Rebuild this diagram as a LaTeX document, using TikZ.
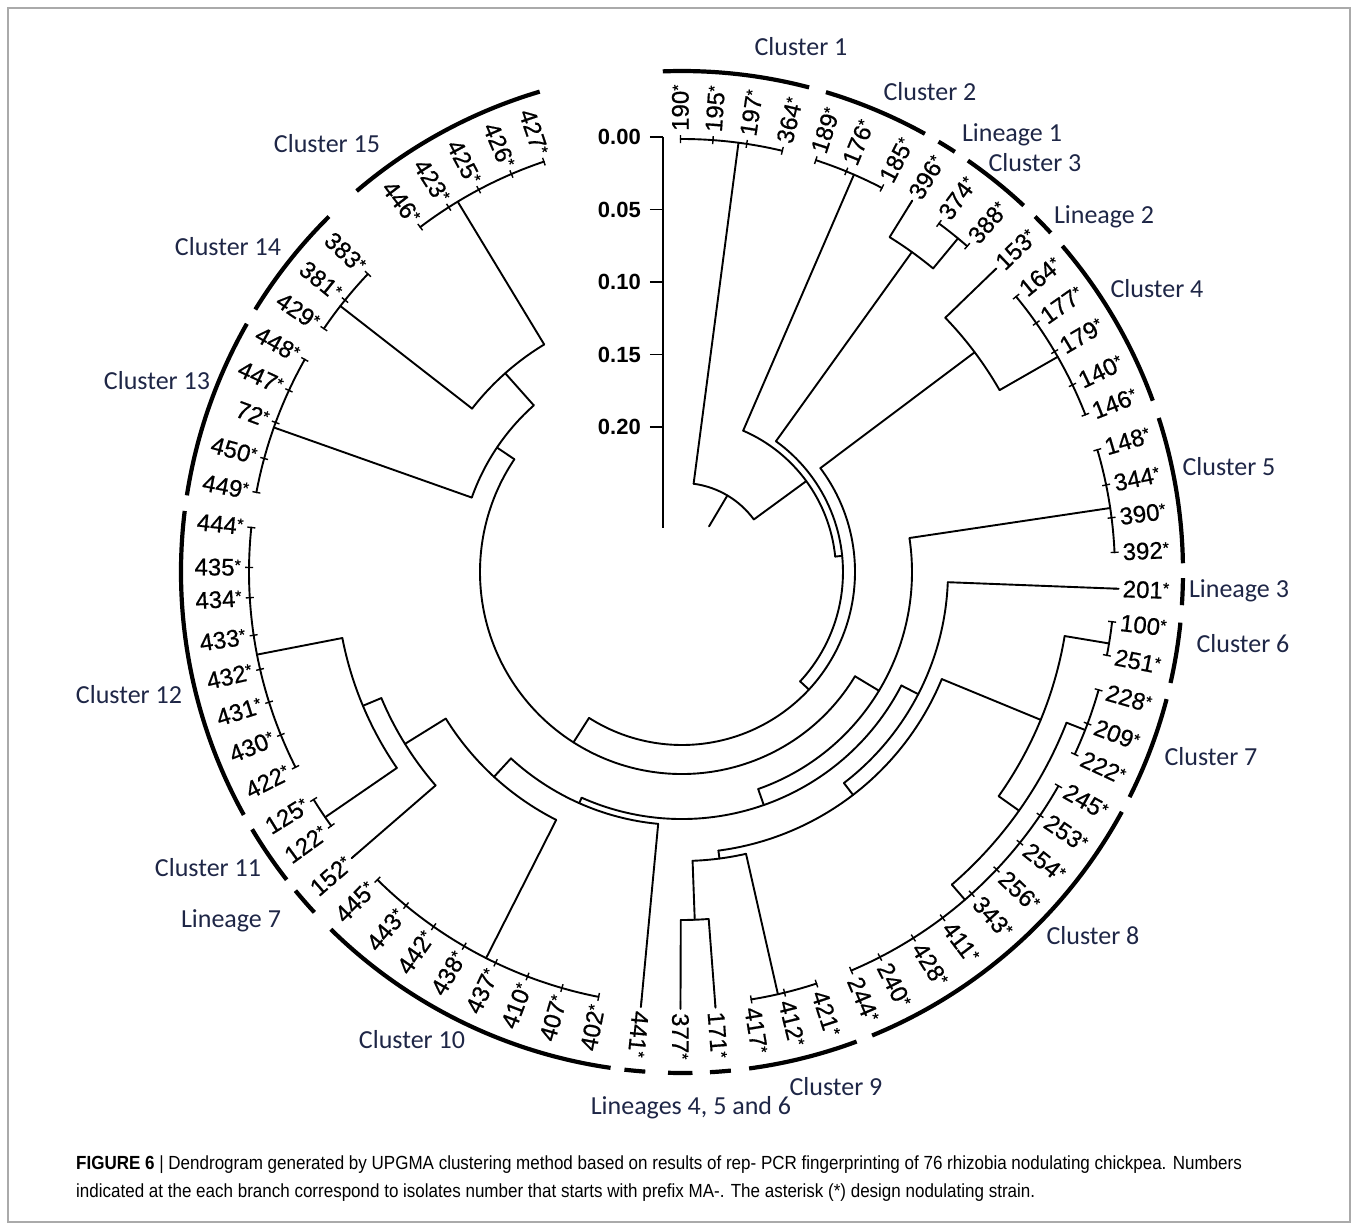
\documentclass[tikz,border=0pt]{standalone}
\usepackage{fontspec}
\setmainfont{Liberation Sans}
\newfontfamily\lblfam[FakeBold=0.6]{Liberation Sans}
\newfontfamily\clfam{Carlito}
\newfontfamily\capfam[FakeStretch=0.895]{Liberation Sans}
\definecolor{clcol}{RGB}{30,38,70}
\definecolor{framecol}{RGB}{170,170,170}
\newcommand{\stx}{\raisebox{5pt}{\fontsize{16}{16}\selectfont *}}
\tikzset{
  br/.style={line width=1.9pt, line cap=round, line join=round},
  tk/.style={line width=1.4pt},
  clarc/.style={line width=4.2pt},
  lbl/.style={inner sep=0pt, font=\lblfam\fontsize{24}{24}\selectfont},
  cl/.style={inner sep=0pt, text=clcol, font=\clfam\fontsize{26}{26}\selectfont},
  sc/.style={inner sep=0pt, font=\bfseries\fontsize{22}{22}\selectfont},
  capt/.style={anchor=base west, inner sep=0pt, font=\capfam\fontsize{19}{19}\selectfont},
}
% leaf label, right half (reads outward)
\newcommand{\LR}[2]{\draw[tk] (#2:429pt) -- (#2:437pt);
  \node[lbl, anchor=west, rotate=#2] (l#1) at (#2:441pt) {#1\stx};}
% leaf label, left half (reads inward)
\newcommand{\LL}[2]{\draw[tk] (#2:429pt) -- (#2:437pt);
  \node[lbl, anchor=east, rotate=#2+180] (l#1) at (#2:441pt) {#1\stx};}
% cluster of leaves: name, stem angle, parent radius, from, to
\newcommand{\CG}[5]{%
  \draw[br] (#4:433pt) arc[start angle=#4, end angle=#5, radius=433pt];
  \coordinate (#1) at (#2:433pt);
  \coordinate (#1f) at (#2:#3pt);
  \draw[br] (#1) -- (#1f);}
% single leaf: name, angle, parent radius
\newcommand{\SG}[3]{%
  \coordinate (#1) at (#2:437pt);
  \coordinate (#1f) at (#2:#3pt);
  \draw[br] (#1) -- (#1f);}
% internal node: name, own angle, radius, parent radius, from, to
\newcommand{\IN}[6]{%
  \draw[br] (#5:#3pt) arc[start angle=#5, end angle=#6, radius=#3pt];
  \coordinate (#1) at (#2:#3pt);
  \coordinate (#1f) at (#2:#4pt);
  \draw[br] (#1) -- (#1f);}
% thick cluster arc
\newcommand{\CA}[2]{\draw[clarc] (#1:501pt) arc[start angle=#1, end angle=#2, radius=501pt];}
\begin{document}
\begin{tikzpicture}[x=1pt,y=1pt]
\useasboundingbox (-682,-660) rectangle (676,572);
\draw[framecol, line width=1.2pt] (-674,564) rectangle (668,-650);

% ---------- scale bar ----------
\coordinate (s0) at (-19,435);
\coordinate (s1) at (-19,44);
\draw[br, line cap=butt] (s0) -- (s1);
\foreach \v/\t in {0/0.00,1/0.05,2/0.10,3/0.15,4/0.20}{
  \draw[br, line cap=butt] (-32,435-72.5*\v) -- (-19,435-72.5*\v);
  \node[sc, anchor=east] (sc\v) at (-41,435-72.5*\v) {\t};
}

% ---------- internal nodes ----------
\IN{nR}{59.34}{89}{53}{82.5}{36.18}
\IN{nB}{36.18}{154}{89}{66.6}{5.75}
\IN{nE}{5.75}{161}{154}{54.3}{-42.8}
\IN{nD}{54.3}{394}{161}{58.2}{50.4}
\IN{nH}{-42.8}{173}{161}{36.9}{-122.5}
\IN{nF}{36.9}{366}{173}{44.0}{29.8}
\IN{nZ}{-122.5}{202}{173}{-31.08}{-213.93}
\IN{nL}{-31.08}{230}{202}{8.5}{-70.66}
\IN{nJ}{-213.93}{223}{202}{-199.5}{-228.35}
\IN{nI}{-228.35}{266}{223}{-217.9}{-238.8}
\IN{nO}{-70.66}{247}{230}{-27.35}{-113.97}
\IN{nM}{-27.35}{266}{247}{-2.2}{-52.5}
\IN{nX}{-52.5}{281}{266}{-22.4}{-82.55}
\IN{nN}{-22.4}{388}{281}{-9.5}{-35.3}
\IN{nC}{-35.3}{413}{388}{-21.4}{-49.2}
\IN{nQ}{-82.55}{289}{281}{-77.2}{-87.9}
\IN{nK}{-87.9}{348}{289}{-85.6}{-90.2}
\IN{nW}{-113.97}{253}{247}{-95.4}{-132.54}
\IN{nV}{-132.54}{278}{253}{-116.9}{-148.18}
\IN{nU}{-148.18}{326}{278}{-139.1}{-157.25}
\IN{nT}{-157.25}{346}{326}{-145.5}{-169}

% ---------- leaf groups ----------
\CG{g1}{82.5}{89}{90.2}{76.6}
\CG{g2}{66.6}{154}{72.0}{62.5}
\CG{g3}{50.4}{394}{53.6}{48.8}
\CG{g4}{29.8}{366}{39.5}{21.3}
\CG{g5}{8.5}{230}{16.4}{2.6}
\CG{g6}{-9.5}{388}{-6.6}{-11.1}
\CG{g7}{-21.4}{413}{-15.8}{-24.9}
\CG{g8}{-49.2}{413}{-29.6}{-67.0}
\CG{g9}{-77.2}{289}{-71.9}{-80.8}
\CG{g10}{-116.9}{278}{-101.1}{-134.7}
\CG{g11}{-145.5}{346}{-144.1}{-148.3}
\CG{g12}{-169}{346}{-153.2}{-185.9}
\CG{g13}{-199.5}{223}{-190.6}{-209.4}
\CG{g14}{-217.9}{266}{-214.2}{-223.5}
\CG{g15}{-238.8}{266}{-232.8}{-251.4}
\SG{s396}{58.2}{394}
\SG{s153}{44.0}{366}
\SG{s201}{-2.2}{266}
\SG{s171}{-85.6}{348}
\SG{s377}{-90.2}{348}
\SG{s441}{-95.4}{253}
\SG{s152}{-139.1}{326}

% ---------- leaf labels ----------
\LR{190}{90.2}\LR{195}{85.9}\LR{197}{81.4}\LR{364}{76.6}
\LR{189}{72.0}\LR{176}{67.7}\LR{185}{62.5}\LR{396}{58.2}
\LR{374}{53.6}\LR{388}{48.8}\LR{153}{44.0}\LR{164}{39.5}
\LR{177}{35.1}\LR{179}{30.6}\LR{140}{25.6}\LR{146}{21.3}
\LR{148}{16.4}\LR{344}{11.6}\LR{390}{7.2}\LR{392}{2.6}
\LR{201}{-2.2}\LR{100}{-6.6}\LR{251}{-11.1}\LR{228}{-15.8}
\LR{209}{-20.5}\LR{222}{-24.9}\LR{245}{-29.6}\LR{253}{-34.2}
\LR{254}{-38.7}\LR{256}{-43.4}\LR{343}{-48.0}\LR{411}{-53.0}
\LR{428}{-57.7}\LR{240}{-62.8}\LR{244}{-67.0}\LR{421}{-71.9}
\LR{412}{-76.3}\LR{417}{-80.8}\LR{171}{-85.6}\LR{377}{-90.2}
\LR{441}{-95.4}
\LL{402}{-101.1}\LL{407}{-106.1}\LL{410}{-110.9}\LL{437}{-115.5}
\LL{438}{-120.2}\LL{442}{-125.0}\LL{443}{-129.6}\LL{445}{-134.7}
\LL{152}{-139.1}\LL{122}{-144.1}\LL{125}{-148.3}\LL{422}{-153.2}
\LL{430}{-157.9}\LL{431}{-162.5}\LL{432}{-167.0}\LL{433}{-171.6}
\LL{434}{-176.6}\LL{435}{-180.6}\LL{444}{-185.9}\LL{449}{-190.6}
\LL{450}{-195.2}\LL{72}{-200.2}\LL{447}{-204.8}\LL{448}{-209.4}
\LL{429}{-214.2}\LL{381}{-218.9}\LL{383}{-223.5}\LL{446}{-232.8}
\LL{423}{-237.4}\LL{425}{-242.0}\LL{426}{-246.8}\LL{427}{-251.4}

% ---------- cluster arcs ----------
\CA{92.2}{75.3}   \CA{73.3}{61.0}   \CA{59.2}{57.0}   \CA{55.2}{47.0}
\CA{45.2}{42.6}   \CA{40.6}{20.0}   \CA{17.9}{1.0}    \CA{-0.7}{-3.8}
\CA{-5.8}{-12.8}  \CA{-14.7}{-26.7} \CA{-28.6}{-67.7} \CA{-69.6}{-82.3}
\CA{-84.4}{-86.8} \CA{-88.8}{-91.6} \CA{-94.2}{-96.6}
\CA{-98.2}{-134.5} \CA{-137.2}{-140.5} \CA{-142.1}{-149.1}
\CA{-151.0}{-187.0} \CA{-188.8}{-209.7} \CA{-211.6}{-225.2}
\CA{-229.5}{-253.5}

% ---------- cluster labels ----------
\node[cl] (k1) at (119,525) {Cluster 1};
\node[cl] (k2) at (248,480) {Cluster 2};
\node[cl] (q1) at (330,437) {Lineage 1};
\node[cl] (k3) at (353,409) {Cluster 3};
\node[cl] (q2) at (422,355) {Lineage 2};
\node[cl] (k4) at (475,283) {Cluster 4};
\node[cl] (k5) at (547,105) {Cluster 5};
\node[cl] (q3) at (557,-19) {Lineage 3};
\node[cl] (k6) at (561,-72) {Cluster 6};
\node[cl] (k7) at (529,-185) {Cluster 7};
\node[cl] (k8) at (411,-364) {Cluster 8};
\node[cl] (k9) at (154,-515) {Cluster 9};
\node[cl] (q4) at (9,-536) {Lineages 4, 5 and 6};
\node[cl] (k10) at (-270,-468) {Cluster 10};
\node[cl] (q7) at (-451,-349) {Lineage 7};
\node[cl] (k11) at (-474,-296) {Cluster 11};
\node[cl] (k12) at (-553,-123) {Cluster 12};
\node[cl] (k13) at (-525,191) {Cluster 13};
\node[cl] (k14) at (-454,325) {Cluster 14};
\node[cl] (k15) at (-355,428) {Cluster 15};

% ---------- caption ----------
\node[capt] (cap1) at (-606,-597)
 {\textbf{FIGURE 6} | Dendrogram generated by UPGMA clustering method based on results of rep- PCR fingerprinting of 76 rhizobia nodulating chickpea. Numbers};
\node[capt] (cap2) at (-606,-625)
 {indicated at the each branch correspond to isolates number that starts with prefix MA-. The asterisk (*) design nodulating strain.};
\end{tikzpicture}
\end{document}
